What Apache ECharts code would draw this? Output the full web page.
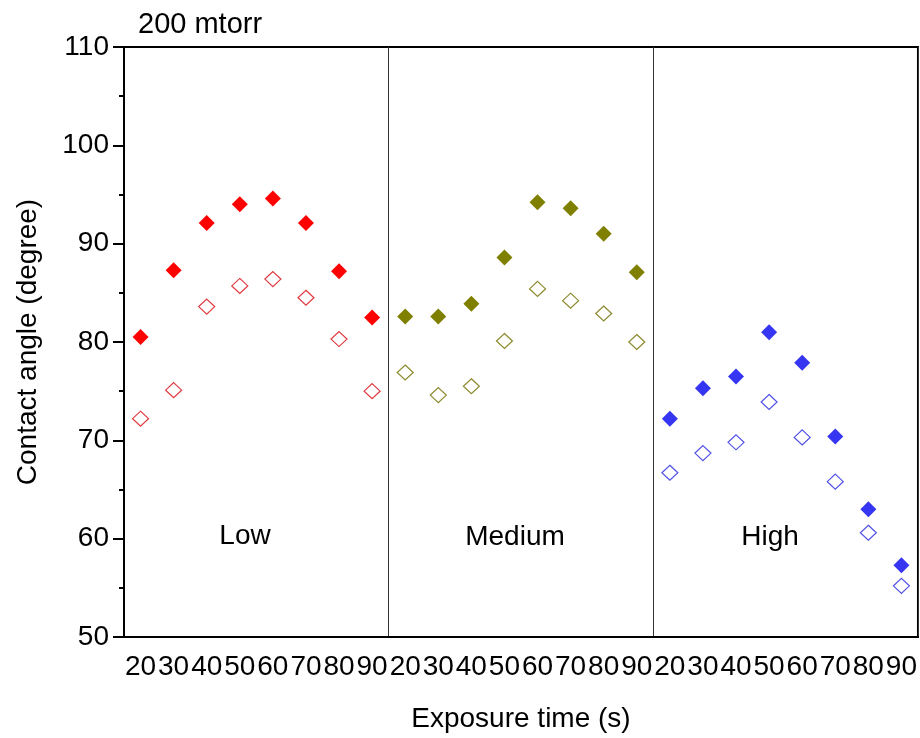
<!DOCTYPE html>
<html>
<head>
<meta charset="utf-8">
<script src="https://cdn.jsdelivr.net/npm/echarts@6/dist/echarts.min.js"></script>
<style>
  html, body { margin: 0; padding: 0; background: #fff; }
  #main { width: 920px; height: 738px; }
</style>
</head>
<body>
<div id="main"></div>
<script>
var times = ['20', '30', '40', '50', '60', '70', '80', '90'];
var yTicks = [50, 60, 70, 80, 90, 100, 110];

var lowFilled = [80.5, 87.3, 92.1, 94.0, 94.6, 92.1, 87.2, 82.5];
var lowHollow = [72.2, 75.1, 83.6, 85.7, 86.4, 84.5, 80.3, 75.0];
var medFilled = [82.6, 82.6, 83.9, 88.6, 94.2, 93.6, 91.0, 87.1];
var medHollow = [76.9, 74.6, 75.5, 80.1, 85.4, 84.2, 82.9, 80.0];
var highFilled = [72.2, 75.3, 76.5, 81.0, 77.9, 70.4, 63.0, 57.3];
var highHollow = [66.7, 68.7, 69.8, 73.9, 70.3, 65.8, 60.6, 55.2];

var groups = ['Low', 'Medium', 'High'];

var xLabels = times.concat(times, times);
var font = 'Arial, "Liberation Sans", sans-serif';

function toPoints(vals, offset) {
    var out = [];
    for (var i = 0; i < vals.length; i++) {
        out.push([i + offset, vals[i]]);
    }
    return out;
}

function filled(name, vals, offset, color) {
    return {
        name: name,
        type: 'scatter',
        symbol: 'diamond',
        symbolSize: [16, 16],
        data: toPoints(vals, offset),
        itemStyle: { color: color, opacity: 1 }
    };
}

function hollow(name, vals, offset, color) {
    return {
        name: name,
        type: 'scatter',
        symbol: 'diamond',
        symbolSize: [16, 15],
        data: toPoints(vals, offset),
        itemStyle: { color: '#fff', borderColor: color, borderWidth: 1.2, opacity: 1 }
    };
}

function groupLabel(text, x, y) {
    return {
        type: 'text',
        x: x,
        y: y,
        style: { text: text, fontSize: 28, fill: '#000', fontFamily: font, align: 'center', verticalAlign: 'middle' }
    };
}

var myChart = echarts.init(document.getElementById('main'));

var option = {
    backgroundColor: '#fff',
    animation: false,
    textStyle: { fontFamily: font },
    title: {
        text: '200 mtorr',
        left: 133,
        top: 5,
        textStyle: { fontSize: 29, fontWeight: 'normal', color: '#000', fontFamily: font }
    },
    grid: {
        left: 124,
        right: 2,
        top: 47,
        bottom: 100,
        show: true,
        borderColor: '#000',
        borderWidth: 2
    },
    xAxis: {
        type: 'category',
        data: xLabels,
        boundaryGap: true,
        name: 'Exposure time (s)',
        nameLocation: 'middle',
        nameGap: 68,
        nameTextStyle: { fontSize: 28, color: '#000', fontFamily: font },
        axisLine: { lineStyle: { color: '#000', width: 2 } },
        axisTick: { alignWithLabel: true, interval: 0, length: 12, lineStyle: { color: '#000', width: 2 } },
        axisLabel: { interval: 0, fontSize: 28, color: '#000', margin: 16, fontFamily: font },
        splitLine: {
            show: true,
            interval: function (index) { return index === 8 || index === 16; },
            lineStyle: { color: '#333', width: 1, type: 'solid' }
        }
    },
    yAxis: {
        type: 'value',
        min: yTicks[0],
        max: yTicks[yTicks.length - 1],
        interval: 10,
        name: 'Contact angle (degree)',
        nameLocation: 'middle',
        nameGap: 82,
        nameTextStyle: { fontSize: 28, color: '#000', fontFamily: font },
        axisLine: { show: true, lineStyle: { color: '#000', width: 2 } },
        axisTick: { show: true, length: 11, lineStyle: { color: '#000', width: 2 } },
        minorTick: { show: true, splitNumber: 2, length: 5, lineStyle: { color: '#000', width: 2 } },
        axisLabel: { fontSize: 28, color: '#000', margin: 15, fontFamily: font },
        splitLine: { show: false }
    },
    graphic: [
        groupLabel(groups[0], 245, 536),
        groupLabel(groups[1], 515, 537),
        groupLabel(groups[2], 770, 537)
    ],
    series: [
        hollow('Low hollow', lowHollow, 0, '#e0393f'),
        filled('Low filled', lowFilled, 0, '#ff0000'),
        hollow('Medium hollow', medHollow, 8, '#8c8a2e'),
        filled('Medium filled', medFilled, 8, '#7f7f00'),
        hollow('High hollow', highHollow, 16, '#5252e6'),
        filled('High filled', highFilled, 16, '#3535f2')
    ]
};

myChart.setOption(option);
</script>
</body>
</html>
